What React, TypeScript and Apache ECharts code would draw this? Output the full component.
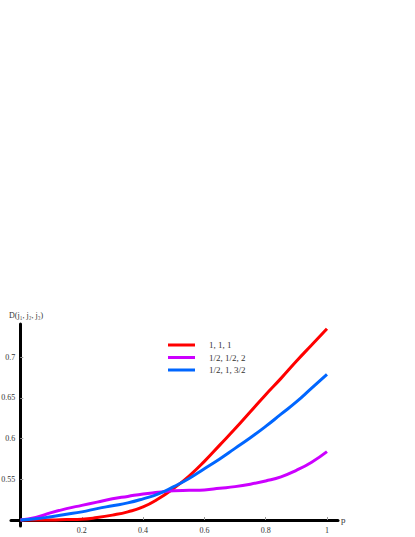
import React, { useEffect, useRef } from "react";
import * as echarts from "echarts";

const pValues = [0, 0.05, 0.1, 0.15, 0.2, 0.25, 0.3, 0.35, 0.4, 0.45, 0.5, 0.55, 0.6, 0.65, 0.7, 0.75, 0.8, 0.85, 0.9, 0.95, 1.0];
const red111 = [0.5, 0.5, 0.5, 0.5005, 0.501, 0.503, 0.506, 0.51, 0.516, 0.526, 0.539, 0.554, 0.572, 0.592, 0.612, 0.633, 0.654, 0.674, 0.695, 0.715, 0.735];
const purpleHalfHalf2 = [0.5, 0.503, 0.509, 0.514, 0.518, 0.522, 0.526, 0.529, 0.532, 0.534, 0.536, 0.5365, 0.537, 0.539, 0.541, 0.544, 0.548, 0.553, 0.561, 0.571, 0.584];
const blueHalf1ThreeHalf = [0.5, 0.5015, 0.504, 0.507, 0.51, 0.514, 0.5175, 0.521, 0.526, 0.532, 0.541, 0.551, 0.563, 0.575, 0.588, 0.601, 0.615, 0.63, 0.645, 0.662, 0.679];
const seriesNames = ["1, 1, 1", "1/2, 1/2, 2", "1/2, 1, 3/2"];
const xTicks = [0.2, 0.4, 0.6, 0.8, 1];
const yTicks = [0.55, 0.6, 0.65, 0.7];

const FONT = "'Liberation Serif', 'DejaVu Serif', serif";

export default function App() {
  const ref = useRef<HTMLDivElement>(null);
  useEffect(() => {
    if (!ref.current) return;
    const chart = echarts.init(ref.current, null, { renderer: "svg" });
    const mk = (vals: number[]) => pValues.map((p, i) => [p, vals[i]]);
    const colors = ["#ff0000", "#cc00ff", "#0066ff"];
    chart.setOption({
      animation: false,
      title: {
        text: "D(j\u2081, j\u2082, j\u2083)",
        left: 9,
        top: 311,
        textStyle: { fontSize: 8, fontWeight: "normal", fontFamily: FONT, color: "#333" },
        padding: 0,
      },
      legend: {
        orient: "vertical",
        left: 168,
        top: 340,
        padding: 0,
        icon: "rect",
        itemWidth: 27,
        itemHeight: 3,
        itemGap: 2.5,
        data: seriesNames,
        textStyle: { fontSize: 9, fontFamily: FONT, color: "#333", lineHeight: 10, padding: [0, 0, 0, 9] },
      },
      grid: { left: 11, right: 77, top: 324, bottom: 11, containLabel: false, outerBoundsMode: "none" },
      xAxis: {
        type: "value",
        min: -0.031,
        max: 1.036,
        offset: -6,
        name: "p",
        nameLocation: "end",
        nameGap: 3,
        nameTextStyle: { fontSize: 9, fontFamily: FONT, color: "#333", verticalAlign: "middle" },
        axisLine: { onZero: false, lineStyle: { color: "#000", width: 3 } },
        axisTick: { show: true, inside: true, length: 3, customValues: xTicks, lineStyle: { color: "#999", width: 1 } },
        axisLabel: {
          customValues: xTicks,
          fontSize: 8,
          fontFamily: FONT,
          color: "#333",
          margin: 6,
          formatter: (v: number) => String(v),
        },
        splitLine: { show: false },
      },
      yAxis: {
        type: "value",
        min: 0.49263,
        max: 0.7408,
        position: "left",
        offset: -9.3,
        axisLine: { onZero: false, lineStyle: { color: "#000", width: 3 } },
        axisTick: { show: true, inside: true, length: 3, customValues: yTicks, lineStyle: { color: "#999", width: 1 } },
        axisLabel: {
          customValues: yTicks,
          fontSize: 8,
          fontFamily: FONT,
          color: "#333",
          margin: 5,
          formatter: (v: number) => String(v),
        },
        splitLine: { show: false },
      },
      series: [red111, purpleHalfHalf2, blueHalf1ThreeHalf].map((vals, i) => ({
        name: seriesNames[i],
        type: "line",
        data: mk(vals),
        smooth: true,
        showSymbol: false,
        symbol: "none",
        color: colors[i],
        lineStyle: { width: 3, color: colors[i] },
      })),
    });
    return () => chart.dispose();
  }, []);
  return <div ref={ref} style={{ width: 415, height: 537, position: "absolute", left: 0, top: 0 }} />;
}
